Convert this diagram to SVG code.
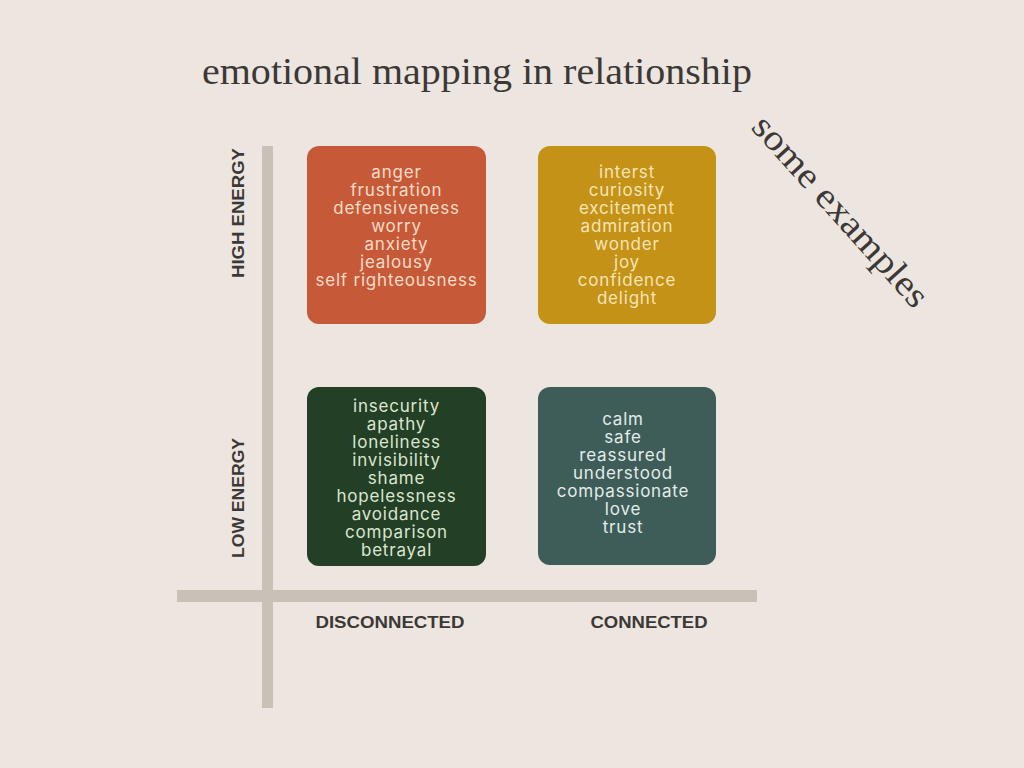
<svg xmlns="http://www.w3.org/2000/svg" width="1024" height="768" viewBox="0 0 1024 768">
<style>
.bg{fill:#ede6e0}
.axis{fill:#c9c0b7}
.title{font-family:"Liberation Serif","DejaVu Serif",serif;fill:#3b3836}
.lab{font-family:"Liberation Sans",Arial,sans-serif;font-weight:bold;font-size:17px;fill:#3b3836}
.words{font-family:Inter,"Liberation Sans",Arial,sans-serif;font-size:17px;letter-spacing:0.8px;text-anchor:middle}
</style>
<rect class="bg" x="0" y="0" width="1024" height="768"/>
<text class="title" x="202" y="84" font-size="38" textLength="550" lengthAdjust="spacingAndGlyphs">emotional mapping in relationship</text>
<text class="title" font-size="36" transform="translate(750,128) rotate(48)" textLength="245" lengthAdjust="spacingAndGlyphs">some examples</text>
<g id="axes">
<rect class="axis" x="262" y="146" width="11" height="562"/>
<rect class="axis" x="177" y="590" width="580" height="12"/>
</g>
<g id="labels">
<text class="lab" transform="translate(244,213) rotate(-90)" text-anchor="middle" textLength="130" lengthAdjust="spacingAndGlyphs">HIGH ENERGY</text>
<text class="lab" transform="translate(244,498) rotate(-90)" text-anchor="middle" textLength="120" lengthAdjust="spacingAndGlyphs">LOW ENERGY</text>
<text class="lab" x="390" y="628" text-anchor="middle" textLength="149" lengthAdjust="spacingAndGlyphs">DISCONNECTED</text>
<text class="lab" x="649" y="628" text-anchor="middle" textLength="117" lengthAdjust="spacingAndGlyphs">CONNECTED</text>
</g>
<g id="high-disconnected">
<rect x="307" y="146" width="179" height="178" rx="12" fill="#c65a38"/>
<text class="words" fill="#f6dcc8" x="396.5" y="178">
<tspan x="396.5">anger</tspan><tspan x="396.5" dy="18">frustration</tspan><tspan x="396.5" dy="18">defensiveness</tspan><tspan x="396.5" dy="18">worry</tspan><tspan x="396.5" dy="18">anxiety</tspan><tspan x="396.5" dy="18">jealousy</tspan><tspan x="396.5" dy="18">self righteousness</tspan>
</text>
</g>
<g id="high-connected">
<rect x="538" y="146" width="178" height="178" rx="12" fill="#c39216"/>
<text class="words" fill="#f7e3b6" x="627" y="178">
<tspan x="627">interst</tspan><tspan x="627" dy="18">curiosity</tspan><tspan x="627" dy="18">excitement</tspan><tspan x="627" dy="18">admiration</tspan><tspan x="627" dy="18">wonder</tspan><tspan x="627" dy="18">joy</tspan><tspan x="627" dy="18">confidence</tspan><tspan x="627" dy="18">delight</tspan>
</text>
</g>
<g id="low-disconnected">
<rect x="307" y="387" width="179" height="179" rx="12" fill="#233f25"/>
<text class="words" fill="#dbe6d0" x="396.5" y="412">
<tspan x="396.5">insecurity</tspan><tspan x="396.5" dy="18">apathy</tspan><tspan x="396.5" dy="18">loneliness</tspan><tspan x="396.5" dy="18">invisibility</tspan><tspan x="396.5" dy="18">shame</tspan><tspan x="396.5" dy="18">hopelessness</tspan><tspan x="396.5" dy="18">avoidance</tspan><tspan x="396.5" dy="18">comparison</tspan><tspan x="396.5" dy="18">betrayal</tspan>
</text>
</g>
<g id="low-connected">
<rect x="538" y="387" width="178" height="178" rx="12" fill="#3e5c58"/>
<text class="words" fill="#e2ece8" x="623" y="425">
<tspan x="623">calm</tspan><tspan x="623" dy="18">safe</tspan><tspan x="623" dy="18">reassured</tspan><tspan x="623" dy="18">understood</tspan><tspan x="623" dy="18">compassionate</tspan><tspan x="623" dy="18">love</tspan><tspan x="623" dy="18">trust</tspan>
</text>
</g>
</svg>
